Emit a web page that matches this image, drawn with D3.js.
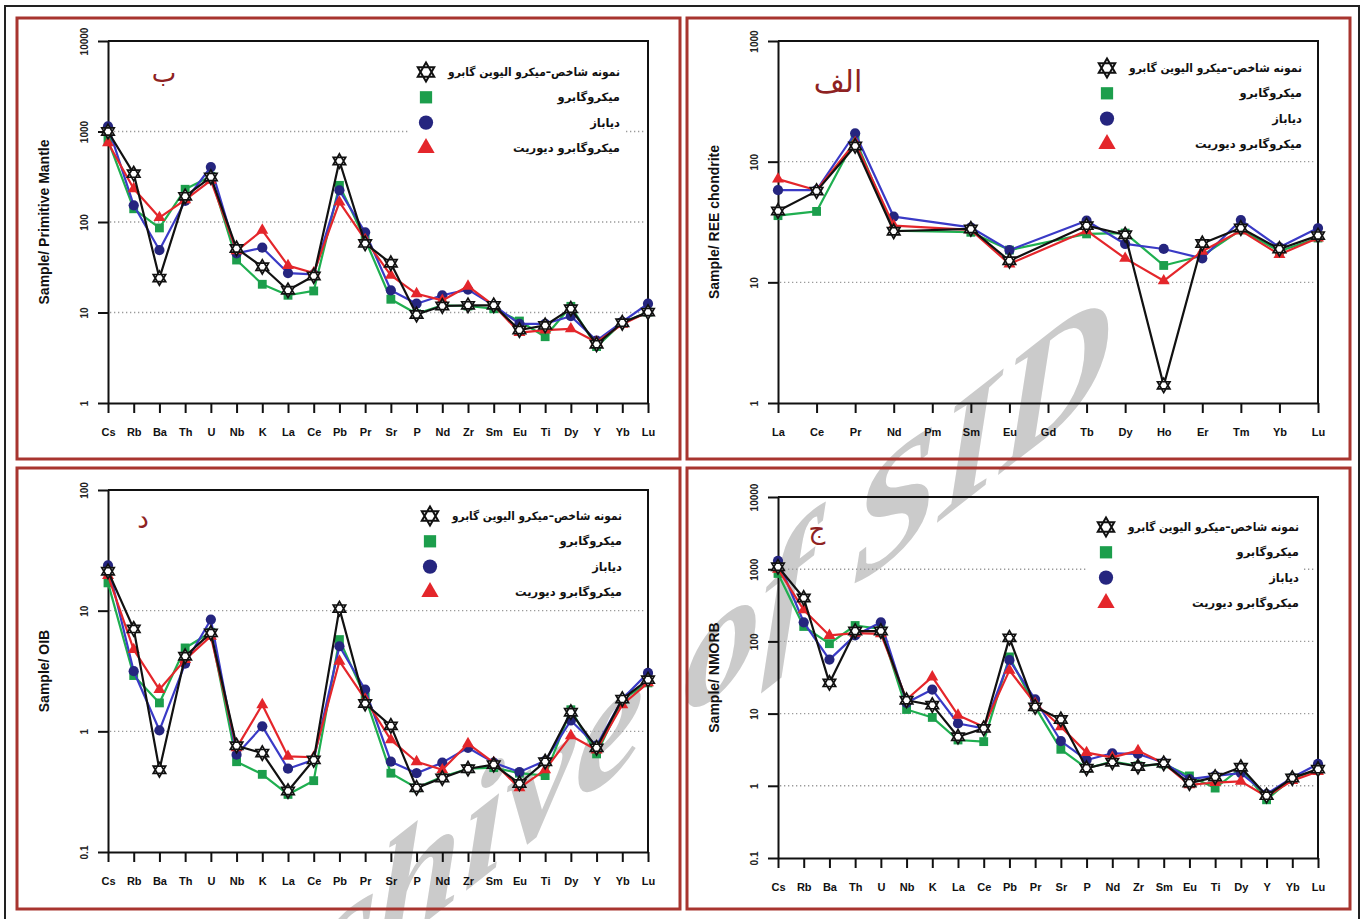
<!DOCTYPE html>
<html>
<head>
<meta charset="utf-8">
<script src="https://cdn.jsdelivr.net/npm/d3@7"></script>
<style>
  body { margin: 0; background: #fff; }
  svg { display: block; }
</style>
</head>
<body>
<svg id="chart" width="1370" height="919"></svg>
<script>

  ///////////////////////////////////////////////////////////////////////////
  ////////////////////////////////// Data ///////////////////////////////////
  ///////////////////////////////////////////////////////////////////////////

  var reeCats = ["La","Ce","Pr","Nd","Pm","Sm","Eu","Gd","Tb","Dy","Ho","Er","Tm","Yb","Lu"]
  var spiderCats = ["Cs","Rb","Ba","Th","U","Nb","K","La","Ce","Pb","Pr","Sr","P","Nd","Zr","Sm","Eu","Ti","Dy","Y","Yb","Lu"]

  var seriesNames = ["نمونه شاخص–میکرو الیوین گابرو", "میکروگابرو", "دیاباز", "میکروگابرو دیوریت"]

  // الف : Sample / REE chondrite  (Pm, Gd not analysed)
  var reeBlack = [39, 57, 135, 26.5, null, 27.7, 15.1, null, 29.5, 24.8, 1.4, 21, 28.2, 18.9, 24.4]
  var reeGreen = [35.7, 38.7, 154, 26.8, null, 26, 18.5, null, 25.2, 25.6, 13.8, 16.6, 27.2, 18.1, 23.3]
  var reeBlue  = [58, 58, 172, 35, null, 28.5, 18.5, null, 32.4, 20.8, 18.9, 15.8, 32.8, 19.5, 28.2]
  var reeRed   = [71.7, 58, 144, 29.5, null, 27.2, 14.2, null, 26.8, 15.8, 10.3, 18.1, 26.8, 17, 23.3]

  // ب : Sample / Primitive Mantle
  var pmBlack = [1000, 342, 24, 192, 314, 51, 32, 17.6, 25.3, 472, 58, 35, 9.5, 11.8, 12, 12, 6.4, 7.2, 11, 4.45, 7.7, 10.1]
  var pmGreen = [800, 140, 86, 230, 320, 38, 20.5, 15.5, 17.3, 254, 64, 14, 9.7, 12, 11.8, 11, 8.05, 5.4, 11.7, 4.2, 7.7, 10.1]
  var pmBlue  = [1140, 153, 49, 171, 405, 45, 52, 27.3, 26.4, 224, 77, 17.6, 12.5, 15.5, 17.9, 12, 7.5, 7.5, 9.1, 4.9, 7.9, 12.5]
  var pmRed   = [750, 233, 112, 176, 289, 48, 81, 33, 27.3, 166, 64, 25.7, 16.1, 13.6, 19.5, 12, 6.0, 6.4, 6.6, 4.7, 7.4, 10.1]

  // ج : Sample / NMORB
  var morbBlack = [1080, 399, 26.6, 139, 139, 15.3, 13.1, 4.79, 6.24, 112, 12.4, 8.3, 1.75, 2.12, 1.85, 2.05, 1.09, 1.32, 1.81, 0.73, 1.28, 1.7]
  var morbGreen = [873, 161, 93, 166, 149, 11.4, 8.85, 4.31, 4.09, 61, 12.4, 3.2, 1.75, 2.16, 1.89, 2.0, 1.37, 0.93, 1.75, 0.64, 1.28, 1.66]
  var morbBlue  = [1305, 184, 56, 121, 184, 14.1, 21.5, 7.3, 6.24, 55, 15.7, 4.17, 2.28, 2.82, 2.76, 2.1, 1.24, 1.37, 1.5, 0.77, 1.3, 2.01]
  var morbRed   = [1000, 273, 121, 130, 127, 15.7, 32.2, 9.5, 6.58, 39.7, 13.8, 6.58, 2.88, 2.48, 3.07, 2.05, 1.03, 1.11, 1.15, 0.71, 1.18, 1.58]

  // د : Sample / OIB
  var oibBlack = [21.2, 7.06, 0.48, 4.19, 6.54, 0.76, 0.66, 0.32, 0.58, 10.4, 1.7, 1.11, 0.34, 0.41, 0.49, 0.53, 0.37, 0.56, 1.44, 0.73, 1.85, 2.68]
  var oibGreen = [17, 2.9, 1.72, 4.91, 6.62, 0.56, 0.44, 0.30, 0.39, 5.76, 1.93, 0.45, 0.34, 0.42, 0.49, 0.50, 0.45, 0.43, 1.51, 0.65, 1.83, 2.52]
  var oibBlue  = [23.7, 3.15, 1.02, 3.64, 8.44, 0.64, 1.1, 0.49, 0.58, 5.07, 2.22, 0.56, 0.45, 0.55, 0.73, 0.55, 0.46, 0.57, 1.23, 0.76, 1.85, 3.05]
  var oibRed   = [19.5, 4.76, 2.22, 3.93, 6.14, 0.73, 1.66, 0.62, 0.61, 3.81, 1.85, 0.85, 0.56, 0.48, 0.79, 0.55, 0.34, 0.48, 0.92, 0.70, 1.66, 2.52]

  ///////////////////////////////////////////////////////////////////////////
  ///////////////////////////////// Styles //////////////////////////////////
  ///////////////////////////////////////////////////////////////////////////

  // legend order: black star, green square, blue circle, red triangle
  var styles = [
    { fill: "#fff",    line: "#111",    shape: "star" },
    { fill: "#1c9e4c", line: "#1faf50", shape: "square" },
    { fill: "#25257f", line: "#3a3ac6", shape: "circle" },
    { fill: "#e4262b", line: "#e4262b", shape: "triangle" }
  ]
  var drawOrder = [1, 2, 3, 0]
  var labelColor = "#8e2222"
  var borderColor = "#a8352f"

  var panels = [
    { label: "ب",   title: "Sample/ Primitive Mantle", cats: spiderCats, domain: [1, 10000],
      series: [pmBlack, pmGreen, pmBlue, pmRed],
      box: [17, 18, 680, 459], plot: [108, 41, 648, 403], titleX: 44, labelAt: [164, 82], legendAt: [426, 72], legendRight: 620 },
    { label: "الف", title: "Sample/ REE chondrite", cats: reeCats, domain: [1, 1000],
      series: [reeBlack, reeGreen, reeBlue, reeRed],
      box: [687, 18, 1350, 459], plot: [778, 41, 1318, 403], titleX: 714, labelAt: [838, 92], legendAt: [1107, 68], legendRight: 1302 },
    { label: "د",   title: "Sample/ OIB", cats: spiderCats, domain: [0.1, 100],
      series: [oibBlack, oibGreen, oibBlue, oibRed],
      box: [17, 468, 680, 909], plot: [108, 490, 648, 852], titleX: 44, labelAt: [143, 528], legendAt: [430, 516], legendRight: 622 },
    { label: "ج",   title: "Sample/ NMORB", cats: spiderCats, domain: [0.1, 10000],
      series: [morbBlack, morbGreen, morbBlue, morbRed],
      box: [687, 468, 1350, 909], plot: [778, 497, 1318, 858], titleX: 714, labelAt: [817, 538], legendAt: [1106, 527], legendRight: 1299 }
  ]

  ///////////////////////////////////////////////////////////////////////////
  ///////////////////////////////// Drawing /////////////////////////////////
  ///////////////////////////////////////////////////////////////////////////

  var svg = d3.select("#chart")
  svg.append("rect").attr("width", 1370).attr("height", 919).attr("fill", "#fff")

  // watermark sits under everything else (runs off the bottom edge, as in the scan)
  svg.append("text")
    .attr("transform", "translate(1112,386) skewY(-38)")
    .attr("text-anchor", "end")
    .style("font-family", "Liberation Serif")
    .style("font-style", "italic")
    .style("font-weight", "bold")
    .style("font-size", "156px")
    .attr("fill", "#cbcbcb")
    .text("Archive of SID")

  // outer frame
  svg.append("rect")
    .attr("x", 5).attr("y", 6).attr("width", 1354).attr("height", 925)
    .attr("fill", "none").attr("stroke", "#222").attr("stroke-width", 2)

  function hexagram(r) {
    var up = d3.range(3).map(i => { var a = -Math.PI/2 + i*2*Math.PI/3; return [r*Math.cos(a), r*Math.sin(a)] })
    var dn = d3.range(3).map(i => { var a = Math.PI/2 + i*2*Math.PI/3; return [r*Math.cos(a), r*Math.sin(a)] })
    return "M" + up.join("L") + "Z M" + dn.join("L") + "Z"
  }

  function marker(sel, st, big) {
    if (st.shape == "star") {
      sel.append("path").attr("d", hexagram(big ? 9.5 : 7.2))
        .attr("fill", "#fff").attr("stroke", "#111").attr("stroke-width", big ? 2 : 1.7)
    } else {
      var type = { square: d3.symbolSquare, circle: d3.symbolCircle, triangle: d3.symbolTriangle }[st.shape]
      var size = { square: big ? 150 : 78, circle: big ? 160 : 82, triangle: big ? 130 : 62 }[st.shape]
      sel.append("path").attr("d", d3.symbol().type(type).size(size)()).attr("fill", st.fill)
    }
  }

  panels.forEach(function (p) {
    var g = svg.append("g")
    var L = p.plot[0], T = p.plot[1], R = p.plot[2], B = p.plot[3]

    g.append("rect")
      .attr("x", p.box[0]).attr("y", p.box[1])
      .attr("width", p.box[2] - p.box[0]).attr("height", p.box[3] - p.box[1])
      .attr("fill", "none").attr("stroke", borderColor).attr("stroke-width", 3)

    var x = d3.scalePoint().domain(p.cats).range([L, R])
    var y = d3.scaleLog().domain(p.domain).range([B, T])
    var decades = d3.range(Math.round(Math.log10(p.domain[0])), Math.round(Math.log10(p.domain[1])) + 1).map(e => Math.pow(10, e))

    // dotted gridlines at inner decades
    g.append("g").selectAll("line")
      .data(decades.slice(1, -1))
      .enter().append("line")
        .attr("x1", L + 2).attr("x2", R - 2)
        .attr("y1", d => y(d)).attr("y2", d => y(d))
        .attr("stroke", "#9a9a9a").attr("stroke-width", 1.4)
        .attr("stroke-dasharray", "1.3,2.7")

    // legend (white backing breaks the gridline as in the original)
    var lx = p.legendAt[0], ly = p.legendAt[1]
    g.append("rect").attr("x", lx - 18).attr("y", ly - 14)
      .attr("width", p.legendRight + 4 - (lx - 18)).attr("height", 90).attr("fill", "#fff")
    seriesNames.forEach(function (name, i) {
      var row = g.append("g").attr("transform", "translate(" + lx + "," + (ly + i * 25.3) + ")")
      marker(row, styles[i], true)
      var t = g.append("text")
        .attr("x", p.legendRight).attr("y", ly + i * 25.3 + 4)
        .attr("text-anchor", "end")
        .style("font-family", "DejaVu Sans").style("font-weight", "bold").style("font-size", "11.5px")
        .attr("fill", "#111")
        .text(name)
      // the original face is narrower; squeeze the long first row to fit beside the marker
      var room = p.legendRight - lx - 22
      if (t.node().getComputedTextLength() > room) t.attr("textLength", room).attr("lengthAdjust", "spacingAndGlyphs")
    })

    // panel letter
    g.append("text")
      .attr("x", p.labelAt[0]).attr("y", p.labelAt[1])
      .attr("text-anchor", "middle")
      .style("font-family", "DejaVu Sans").style("font-size", p.label.length > 1 ? "30px" : "26px")
      .attr("fill", labelColor)
      .text(p.label)

    // axes
    var ya = g.append("g").attr("transform", "translate(" + L + ",0)")
      .call(d3.axisLeft(y).tickValues(decades).tickSize(10).tickSizeOuter(0).tickFormat(d => String(+d.toPrecision(3))))
    ya.selectAll("text")
      .attr("x", 0).attr("y", 0).attr("dy", "0.36em")
      .attr("transform", "translate(-24,0) rotate(-90)")
      .attr("text-anchor", "middle")
      .style("font-family", "Liberation Sans").style("font-weight", "bold").style("font-size", "10px").attr("fill", "#222")

    var xa = g.append("g").attr("transform", "translate(0," + B + ")")
      .call(d3.axisBottom(x).tickSize(10).tickSizeOuter(0).tickPadding(15))
    xa.selectAll("text")
      .style("font-family", "Liberation Sans").style("font-weight", "bold").style("font-size", "11px").attr("fill", "#111")

    g.selectAll(".domain, .tick line").attr("stroke", "#111").attr("stroke-width", 2)

    g.append("path").attr("d", "M" + L + "," + T + "H" + R + "V" + B)
      .attr("fill", "none").attr("stroke", "#111").attr("stroke-width", 2)

    // y title
    g.append("text")
      .attr("transform", "translate(" + p.titleX + "," + ((T + B) / 2) + ") rotate(-90)")
      .attr("dy", "0.35em").attr("text-anchor", "middle")
      .style("font-family", "Liberation Sans").style("font-weight", "bold").style("font-size", "14px")
      .attr("fill", "#111")
      .text(p.title)

    // series
    var line = d3.line().x(d => x(d.cat)).y(d => y(d.v))
    drawOrder.forEach(function (si) {
      var st = styles[si]
      var pts = p.cats.map((c, i) => ({ cat: c, v: p.series[si][i] })).filter(d => d.v != null)
      g.append("path").datum(pts).attr("d", line)
        .attr("fill", "none").attr("stroke", st.line).attr("stroke-width", 2.2).attr("stroke-linejoin", "round")
      pts.forEach(function (d) {
        var m = g.append("g").attr("transform", "translate(" + x(d.cat) + "," + y(d.v) + ")")
        marker(m, st, false)
      })
    })
  })

</script>
</body>
</html>
